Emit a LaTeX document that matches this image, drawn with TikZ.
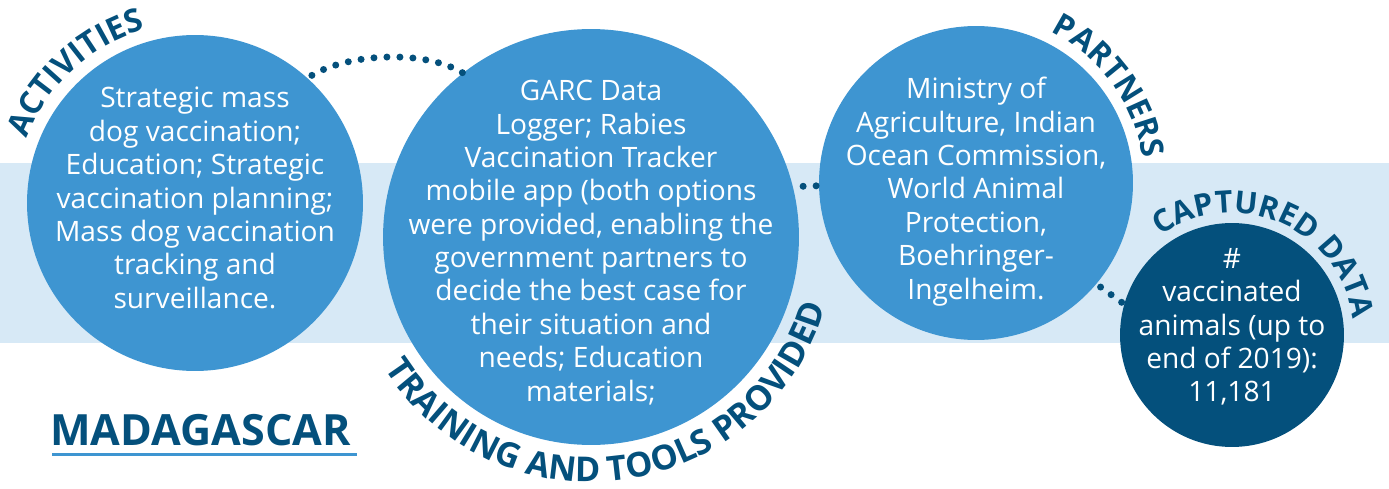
\documentclass[tikz,border=0pt]{standalone}
\usepackage{fontspec}
\setmainfont{Open Sans}
\usetikzlibrary{decorations.text, positioning, calc}
\definecolor{lblue}{RGB}{62,149,209}
\definecolor{dblue}{RGB}{4,80,124}
\definecolor{band}{RGB}{215,233,246}

\begin{document}
\begin{tikzpicture}[x=0.02cm, y=0.02cm,
    bubble/.style={circle, fill=lblue, inner sep=0pt},
    bodytext/.style={text=white, align=center, font=\fontsize{16}{19}\selectfont},
    dotlink/.style={dblue, line width=0.14cm, line cap=round, dash pattern=on 0pt off 0.26cm},
    arclabel/.style={decorate, decoration={text along path, text align=center, text color=dblue, text={#1}}}]
      \useasboundingbox (0,0) rectangle (1389,488);
      \fill[band] (0,145) rectangle (1389,325);

      % circles
      \node[bubble, minimum size=6.72cm] (act) at (195,285) {};
      \node[bubble, minimum size=8.32cm] (tools) at (591,251) {};
      \node[bubble, minimum size=6.28cm] (part) at (976,305) {};
      \node[bubble, fill=dblue, minimum size=4.48cm] (data) at (1232,153) {};

      \node[bodytext] (acttext) at ([yshift=0.1cm]act.center) {Strategic mass\\dog vaccination;\\Education; Strategic\\vaccination planning;\\Mass dog vaccination\\tracking and\\surveillance.};
      \node[bodytext] (toolstext) at ([yshift=-0.11cm]tools.center) {GARC Data\\Logger; Rabies\\Vaccination Tracker\\mobile app (both options\\were provided, enabling the\\government partners to\\decide the best case for\\their situation and\\needs; Education\\materials;};
      \node[bodytext] (parttext) at ([yshift=-0.17cm]part.center) {Ministry of\\Agriculture, Indian\\Ocean Commission,\\World Animal\\Protection,\\Boehringer-\\Ingelheim.};
      \node[bodytext] (datatext) at ([yshift=0.16cm]data.center) {\#\\vaccinated\\animals (up to\\end of 2019):\\11,181};

      % dotted links
      \draw[dotlink, shorten <=0.1cm] (act.48) .. controls +(40,24) and +(-40,24) .. (tools.128);
      \draw[dotlink, shorten <=0.2cm] (tools.14) -- (part.181);
      \draw[dotlink, shorten <=0.1cm] (part.320) -- (data.164);

      % curved labels
      \path[arclabel={|\fontsize{18.2}{20}\selectfont\bfseries|ACTIVITIES}] ([shift={(175:180.5)}]act.center) arc[start angle=175, end angle=90, radius=180.5];
      \path[arclabel={|\fontsize{19.5}{22}\selectfont\bfseries|TRAINING AND TOOLS PROVIDED}] ([shift={(180:245)}]tools.center) arc[start angle=180, end angle=376, radius=245];
      \path[arclabel={|\fontsize{18}{20}\selectfont\bfseries|PARTNERS}] ([shift={(85:168.5)}]part.center) arc[start angle=85, end angle=-13, radius=168.5];
      \path[arclabel={|\fontsize{17.5}{20}\selectfont\bfseries|CAPTURED DATA}] ([shift={(150:122)}]data.center) arc[start angle=150, end angle=-16.6, radius=122];

      \node[anchor=base west, inner sep=0pt, text=dblue, font=\fontsize{24.5}{28}\selectfont\bfseries] (mdg) at (50,43) {MADAGASCAR};
      \draw[lblue, line width=0.06cm] (52,33.5) -- (357,33.5);
    \end{tikzpicture}
\end{document}
